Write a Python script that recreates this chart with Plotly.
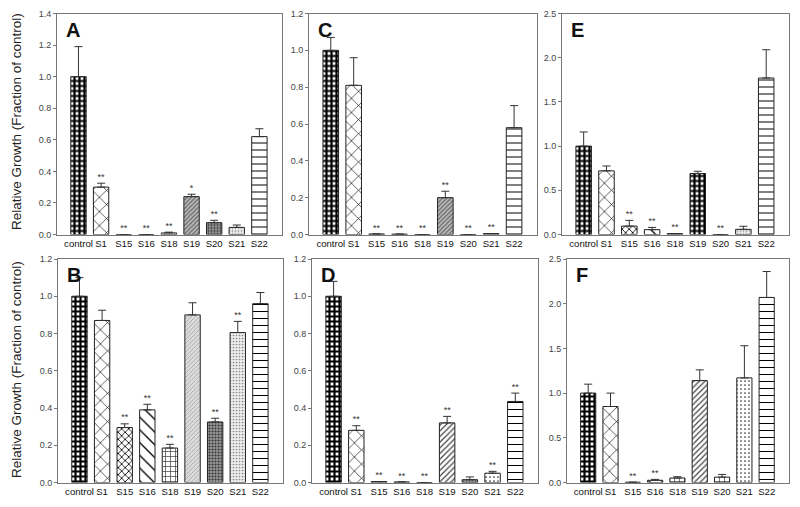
import plotly.graph_objects as go

# the page body keeps an 8px margin, so the figure is laid out in page pixels
# and shifted by that offset
OFF = 8
W, H = 800 - OFF, 507 - OFF

categories = ["control", "S1", "S15", "S16", "S18", "S19", "S20", "S21", "S22"]

# values and upper error of each panel (fraction of control)
a_values = [1.0, 0.30, 0.0, 0.0, 0.01, 0.24, 0.075, 0.045, 0.62]
a_errors = [0.19, 0.025, 0.0, 0.0, 0.005, 0.015, 0.015, 0.015, 0.05]
a_stars = ["", "**", "**", "**", "**", "*", "**", "", ""]

b_values = [1.0, 0.87, 0.295, 0.39, 0.185, 0.90, 0.325, 0.805, 0.96]
b_errors = [0.10, 0.055, 0.02, 0.03, 0.02, 0.065, 0.02, 0.06, 0.06]
b_stars = ["", "", "**", "**", "**", "", "**", "**", ""]

c_values = [1.0, 0.81, 0.003, 0.002, 0.0, 0.20, 0.0, 0.005, 0.58]
c_errors = [0.07, 0.15, 0.0, 0.0, 0.0, 0.035, 0.0, 0.0, 0.12]
c_stars = ["", "", "**", "**", "**", "**", "**", "**", ""]

d_values = [1.0, 0.28, 0.005, 0.003, 0.0, 0.32, 0.015, 0.05, 0.435]
d_errors = [0.08, 0.025, 0.0, 0.0, 0.0, 0.035, 0.015, 0.01, 0.045]
d_stars = ["", "**", "**", "**", "**", "**", "", "**", "**"]

e_values = [1.0, 0.72, 0.095, 0.055, 0.01, 0.69, 0.0, 0.058, 1.77]
e_errors = [0.16, 0.055, 0.065, 0.025, 0.0, 0.025, 0.0, 0.035, 0.32]
e_stars = ["", "", "**", "**", "**", "", "**", "", ""]

f_values = [1.0, 0.85, 0.003, 0.025, 0.05, 1.14, 0.06, 1.17, 2.07]
f_errors = [0.10, 0.15, 0.0, 0.01, 0.015, 0.12, 0.03, 0.36, 0.29]
f_stars = ["", "", "**", "**", "", "", "", "", ""]

# fill styles
def pat(shape, size, sol, fg="black", bg="white"):
    return dict(shape=shape, size=size, solidity=sol, fgcolor=fg, bgcolor=bg)

checker = pat("+", 5, 0.68)
xhatch = pat("x", 10, 0.12)
fine_x = pat("x", 5, 0.3)
diag = pat("\\", 9, 0.15)
brick = pat("+", 5, 0.25, "#333", "white")
gray_fine = pat("/", 3, 0.4, "#666", "#bbb")
light_fine = pat("/", 3, 0.25, "#999", "#ddd")
dark_dots = pat(".", 3, 0.4, "#333", "#999")
light_dots = pat(".", 3, 0.25, "#888", "#eee")
wavy = pat("/", 4, 0.3, "#444", "white")
sparse_dots = pat(".", 4, 0.15, "#333", "white")
hlines = pat("-", 7, 0.15)

panels = [
    # letter, values, errors, stars, y max, dtick, x span, y span (page px), fills
    ("A", a_values, a_errors, a_stars, 1.4, 0.2, (57, 282), (13.5, 234.5),
     [checker, xhatch, fine_x, diag, brick, gray_fine, dark_dots, light_dots, hlines]),
    ("C", c_values, c_errors, c_stars, 1.2, 0.2, (309, 537), (13.5, 234.5),
     [checker, xhatch, fine_x, diag, brick, gray_fine, dark_dots, light_dots, hlines]),
    ("E", e_values, e_errors, e_stars, 2.5, 0.5, (562, 789), (13.5, 234.5),
     [checker, xhatch, fine_x, diag, brick, checker, dark_dots, light_dots, hlines]),
    ("B", b_values, b_errors, b_stars, 1.2, 0.2, (58, 283), (259, 482.5),
     [checker, xhatch, fine_x, diag, brick, light_fine, dark_dots, light_dots, hlines]),
    ("D", d_values, d_errors, d_stars, 1.2, 0.2, (312, 538), (259, 482.5),
     [checker, xhatch, fine_x, diag, brick, wavy, dark_dots, sparse_dots, hlines]),
    ("F", f_values, f_errors, f_stars, 2.5, 0.5, (567, 789), (259, 482.5),
     [checker, xhatch, fine_x, diag, brick, wavy, brick, sparse_dots, hlines]),
]

def px_x(x):
    return (x - OFF) / W

def px_y(y):
    return 1 - (y - OFF) / H

fig = go.Figure()
layout = {}

for i, (letter, vals, errs, stars, ymax, dtick, xd, yd, fills) in enumerate(panels):
    n = "" if i == 0 else str(i + 1)
    xa, ya = "x" + n, "y" + n
    fig.add_trace(go.Bar(
        x=categories, y=vals, xaxis=xa, yaxis=ya, width=0.68,
        marker=dict(color="white", line=dict(color="#222", width=1),
                    pattern=dict(shape=[f["shape"] for f in fills],
                                 size=[f["size"] for f in fills],
                                 solidity=[f["solidity"] for f in fills],
                                 fgcolor=[f["fgcolor"] for f in fills],
                                 bgcolor=[f["bgcolor"] for f in fills],
                                 fillmode="replace")),
        error_y=dict(type="data", symmetric=False, array=errs,
                     arrayminus=[0] * len(errs), color="#333", thickness=1, width=4),
        showlegend=False, hoverinfo="skip"))
    # significance marks just above each error bar
    fig.add_trace(go.Scatter(
        x=categories, y=[v + e + ymax * 0.005 for v, e in zip(vals, errs)],
        text=stars, mode="text", textposition="top center",
        textfont=dict(size=9, color="#333", family="Liberation Sans, Arial"),
        xaxis=xa, yaxis=ya, showlegend=False, hoverinfo="skip", cliponaxis=False))
    layout["xaxis" + n] = dict(
        domain=[px_x(xd[0]), px_x(xd[1])], anchor=ya, type="category",
        range=[-0.95, 9.0], showline=True, mirror=True, linecolor="#777",
        linewidth=1, ticks="", tickangle=0, tickfont=dict(size=9.6, color="#111"),
        showgrid=False, zeroline=False, automargin=False, ticklabeloverflow="allow")
    layout["yaxis" + n] = dict(
        domain=[px_y(yd[1]), px_y(yd[0])], anchor=xa,
        range=[0, ymax], dtick=dtick, tickformat=".1f",
        showline=True, mirror=True, linecolor="#777", linewidth=1,
        ticks="outside", ticklen=3, tickcolor="#777",
        tickfont=dict(size=9, color="#444"), showgrid=False, zeroline=False,
        automargin=False, ticklabeloverflow="allow")
    fig.add_annotation(text="<b>" + letter + "</b>", xref=xa + " domain", yref=ya + " domain",
                       x=0.03, y=0.985, xanchor="left", yanchor="top", showarrow=False,
                       font=dict(size=20, color="#111", family="Liberation Sans, Arial"))

for yc in (122, 370):
    fig.add_annotation(text="Relative Growth (Fraction of control)", textangle=-90,
                       xref="paper", yref="paper", x=px_x(16), y=px_y(yc),
                       xanchor="center", yanchor="middle",
                       showarrow=False, font=dict(size=13.5, color="#222"))

fig.update_layout(
    width=W, height=H, margin=dict(l=0, r=0, t=0, b=0, autoexpand=False),
    paper_bgcolor="white", plot_bgcolor="white",
    font=dict(family="Liberation Sans, Arial, sans-serif"),
    **layout)

fig.write_html("out.html")
